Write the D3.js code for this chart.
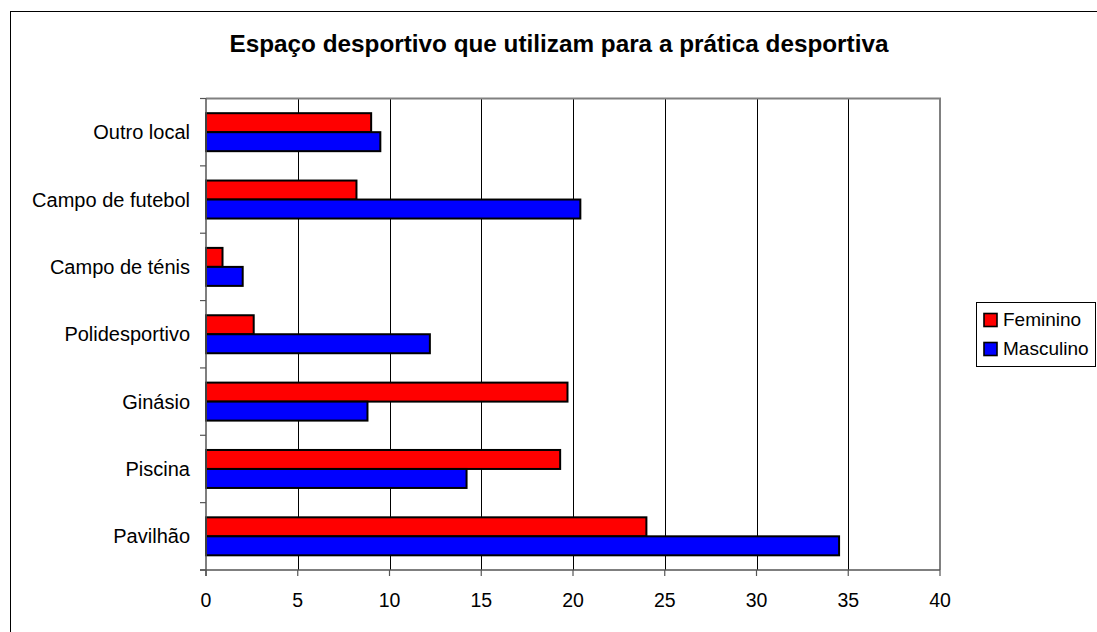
<!DOCTYPE html>
<html><head><meta charset="utf-8">
<script src="https://cdn.jsdelivr.net/npm/d3@7/dist/d3.min.js"></script>
<style>body{margin:0;background:#fff}svg{display:block}text{font-family:"Liberation Sans",Arial,sans-serif}</style>
</head><body>
<script>
const categories = ["Outro local","Campo de futebol","Campo de ténis","Polidesportivo","Ginásio","Piscina","Pavilhão"];
const feminino = [9.0, 8.2, 0.9, 2.6, 19.7, 19.3, 24.0];
const masculino = [9.5, 20.4, 2.0, 12.2, 8.8, 14.2, 34.5];
const seriesNames = ["Feminino","Masculino"];
const seriesColors = ["#ff0000","#0000ff"];
const xTicks = [0,5,10,15,20,25,30,35,40];
const chartTitle = "Espaço desportivo que utilizam para a prática desportiva";

(function(){
const W = 1097, H = 632;
const svg = d3.select("body").append("svg").attr("width", W).attr("height", H);

// outer frame (left/top visible)
svg.append("rect").attr("x",10.5).attr("y",11.5).attr("width",W+20).attr("height",H+20)
  .attr("fill","#fff").attr("stroke","#000").attr("stroke-width",1);

svg.append("text").attr("x",559).attr("y",52).attr("text-anchor","middle")
  .attr("font-size","24.3px").attr("font-weight","bold").text(chartTitle);

const pL = 206, pR = 940, pT = 98.5, pB = 570;
const x = d3.scaleLinear().domain([0,40]).range([pL,pR]);
const y = d3.scaleBand().domain(categories).range([pT,pB]).paddingInner(0.436).paddingOuter(0.218);
const ySub = d3.scaleBand().domain(seriesNames).range([0,y.bandwidth()]);

// gridlines
svg.append("g").selectAll("line").data(xTicks.filter(d=>d>0 && d<40)).join("line")
  .attr("x1",d=>Math.round(x(d))+0.5).attr("x2",d=>Math.round(x(d))+0.5)
  .attr("y1",pT).attr("y2",pB).attr("stroke","#000").attr("stroke-width",1);

// plot border top & right
svg.append("path").attr("d",`M${pL},${pT}H${pR}V${pB}`)
  .attr("fill","none").attr("stroke","#808080").attr("stroke-width",2);

// bars
const data = categories.map((c,i)=>({c, vals:[feminino[i], masculino[i]]}));
const g = svg.append("g").selectAll("g").data(data).join("g")
  .attr("transform",d=>`translate(0,${y(d.c)})`);
g.selectAll("rect").data(d=>d.vals.map((v,j)=>({v,s:seriesNames[j],col:seriesColors[j]}))).join("rect")
  .attr("x",x(0)).attr("y",d=>ySub(d.s)).attr("width",d=>x(d.v)-x(0)).attr("height",ySub.bandwidth())
  .attr("fill",d=>d.col).attr("stroke","#000").attr("stroke-width",2);

// y axis
const yAxis = svg.append("g").attr("transform",`translate(${pL},0)`);
yAxis.append("line").attr("x1",0).attr("x2",0).attr("y1",pT).attr("y2",pB+6).attr("stroke","#555").attr("stroke-width",1.5);
const yt = d3.range(categories.length+1).map(k=>pT + k*(pB-pT)/categories.length);
yAxis.selectAll("line.t").data(yt).join("line").attr("class","t")
  .attr("x1",-6).attr("x2",0).attr("y1",d=>d).attr("y2",d=>d).attr("stroke","#555").attr("stroke-width",1.2);
yAxis.selectAll("text").data(categories).join("text")
  .attr("x",-16).attr("y",d=>y(d)+y.bandwidth()/2).attr("dy","0.35em")
  .attr("text-anchor","end").attr("font-size","20px").text(d=>d);

// x axis
const xAxis = svg.append("g").attr("transform",`translate(0,${pB})`);
xAxis.append("line").attr("x1",pL-6).attr("x2",pR).attr("y1",0).attr("y2",0).attr("stroke","#555").attr("stroke-width",1.5);
xAxis.selectAll("line.t").data(xTicks).join("line").attr("class","t")
  .attr("x1",d=>x(d)).attr("x2",d=>x(d)).attr("y1",0).attr("y2",6).attr("stroke","#555").attr("stroke-width",1.2);
xAxis.selectAll("text").data(xTicks).join("text")
  .attr("x",d=>x(d)).attr("y",37).attr("text-anchor","middle").attr("font-size","19.5px").text(d=>d);

// legend
const lg = svg.append("g");
lg.append("rect").attr("x",976.5).attr("y",302.5).attr("width",119).attr("height",64)
  .attr("fill","#fff").attr("stroke","#000").attr("stroke-width",1);
seriesNames.forEach((s,i)=>{
  lg.append("rect").attr("x",984).attr("y",313.5+i*29).attr("width",13).attr("height",13)
    .attr("fill",seriesColors[i]).attr("stroke","#000").attr("stroke-width",1.6);
  lg.append("text").attr("x",1003).attr("y",326+i*29).attr("font-size","19px").text(s);
});
})();
</script>
</body></html>
